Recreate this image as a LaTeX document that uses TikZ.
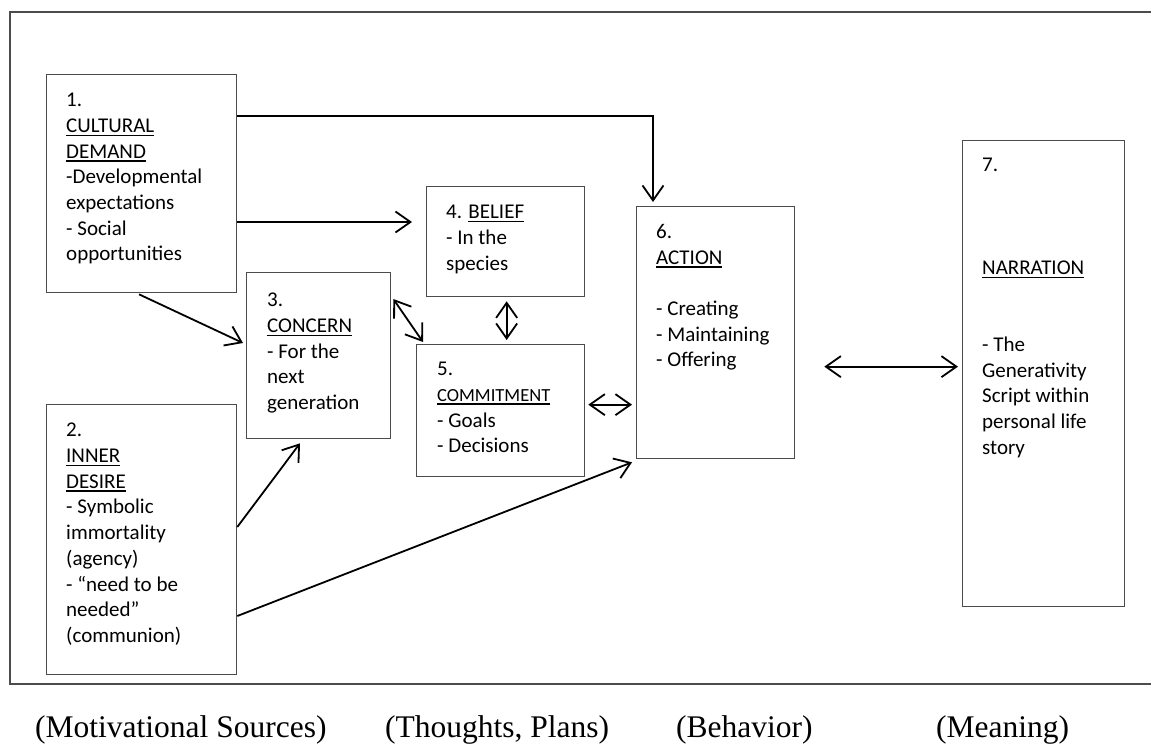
\documentclass[tikz,border=0pt]{standalone}
\usepackage{fontspec}
\setmainfont{Liberation Serif}
\newfontfamily\boxfont{Carlito}
\usetikzlibrary{arrows.meta,calc}
\newcommand\ulword[1]{\setbox0\hbox{#1}\rlap{\rule[-3.5pt]{\wd0}{1.4pt}}\box0}

\begin{document}
\begin{tikzpicture}[%
	x=1pt, y=-1pt,%
	box/.style ={draw=black!70, line width=1.3pt, anchor=north west, inner sep=0pt},%
	txt/.style ={anchor=north west, inner sep=0pt, align=left, font=\boxfont\fontsize{21pt}{25.7pt}\selectfont},%
	stage/.style ={anchor=base west, inner sep=0pt, font=\fontsize{31.5pt}{36pt}\selectfont},%
	arr/.style ={-{Straight Barb[length=15pt,width=21pt]}, line width=1.8pt},%
	darr/.style ={arr, {Straight Barb[length=15pt,width=21pt]}-{Straight Barb[length=15pt,width=21pt]}},%
	]
	\useasboundingbox (0,0) rectangle (1151,744);
%%% frame
	\draw [black!70, line width=1.8pt] (1160,12) -- (10,12) -- (10,684) -- (1160,684);
%%% frame
%%% boxes
	\node [box, minimum width=190pt, minimum height=218pt] (cultural) at (46,74) {};
	\node [box, minimum width=190pt, minimum height=270pt] (inner) at (46,404) {};
	\node [box, minimum width=144pt, minimum height=166pt] (concern) at (246,272) {};
	\node [box, minimum width=158pt, minimum height=110pt] (belief) at (426,186) {};
	\node [box, minimum width=168pt, minimum height=132pt] (commitment) at (416,344) {};
	\node [box, minimum width=158pt, minimum height=252pt] (action) at (636,206) {};
	\node [box, minimum width=162pt, minimum height=466pt] (narration) at (962,140) {};
%%% boxes
%%% texts
	\node [txt] (culturaltext) at ($(cultural.north west)+(20,19)$)
		{1.\\ \ulword{CULTURAL}\\ \ulword{DEMAND}\\ -Developmental\\ expectations\\ - Social\\ opportunities};
	\node [txt] (innertext) at ($(inner.north west)+(20,19)$)
		{2.\\ \ulword{INNER}\\ \ulword{DESIRE}\\ - Symbolic\\ immortality\\ (agency)\\ - “need to be\\ needed”\\ (communion)};
	\node [txt] (concerntext) at ($(concern.north west)+(21,21)$)
		{3.\\ \ulword{CONCERN}\\ - For the\\ next\\ generation};
	\node [txt] (belieftext) at ($(belief.north west)+(20,19)$)
		{4. \ulword{BELIEF}\\ - In the\\ species};
	\node [txt] (commitmenttext) at ($(commitment.north west)+(21,18)$)
		{5.\\ {\fontsize{18.5pt}{23pt}\selectfont\ulword{COMMITMENT}}\\ - Goals\\ - Decisions};
	\node [txt] (actiontext) at ($(action.north west)+(20,18)$)
		{6.\\ \ulword{ACTION}\\ ~\\ - Creating\\ - Maintaining\\ - Offering};
	\node [txt] (narrationtext) at ($(narration.north west)+(20,18)$)
		{7.\\ ~\\ ~\\ ~\\ \ulword{NARRATION}\\ ~\\ ~\\ - The\\ Generativity\\ Script within\\ personal life\\ story};
%%% texts
%%% connectors
	\coordinate (cultop) at ($(cultural.north east)+(0,42)$);
	\draw [arr] (cultop) -| ($(action.north west)+(17,-4)$);
	\coordinate (culmid) at ($(cultural.north east)+(0,148)$);
	\draw [arr] (culmid) -- ($(belief.west |- culmid)+(-14,0)$);
	\draw [arr] ($(cultural.south west)+(93,1)$) -- ($(concern.north west)+(-3,71)$);
	\draw [darr] ($(concern.north east)+(2,27)$) -- ($(commitment.north west)+(7,-2)$);
	\draw [darr] ($(belief.south)+(1,4)$) -- ($(belief.south |- commitment.north)+(1,-4)$);
	\coordinate (comeast) at ($(commitment.east)+(3,-6)$);
	\draw [darr] (comeast) -- ($(action.west |- comeast)+(-4,0)$);
	\draw [arr] ($(inner.north east)+(0,123)$) -- ($(concern.south west)+(54,4)$);
	\draw [arr] ($(inner.north east)+(0,212)$) -- ($(action.south west)+(-4,3)$);
	\coordinate (acteast) at ($(action.east)+(29,34)$);
	\draw [darr] (acteast) -- ($(narration.west |- acteast)+(-4,0)$);
%%% connectors
%%% stages
	\node [stage] (motivation) at (35,737) {(Motivational Sources)};
	\node [stage] (thoughts) at (385,737) {(Thoughts, Plans)};
	\node [stage] (behavior) at (676,737) {(Behavior)};
	\node [stage] (meaning) at (936,737) {(Meaning)};
%%% stages
\end{tikzpicture}
\end{document}
